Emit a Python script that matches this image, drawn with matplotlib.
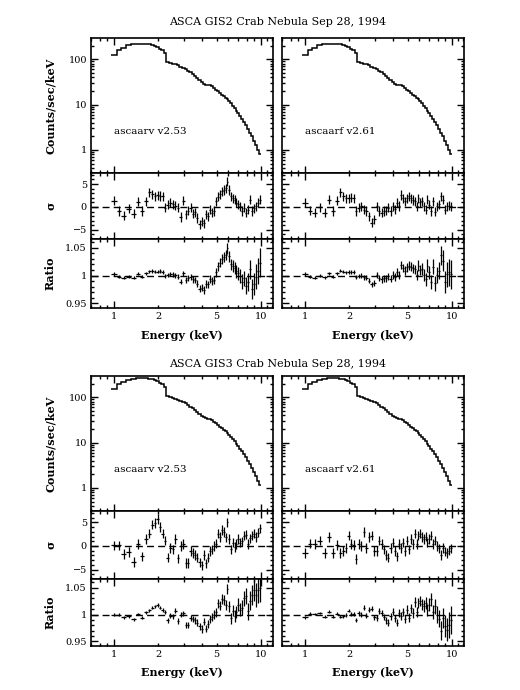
import matplotlib
matplotlib.use("Agg")
import matplotlib.pyplot as plt
import numpy as np
from matplotlib.ticker import FixedLocator, FixedFormatter, NullFormatter

plt.rcParams["font.family"] = ["DejaVu Serif"]
plt.rcParams["font.size"] = 7.5

# ---- data ----
edges = [0.96, 1.04, 1.12, 1.21, 1.31, 1.41, 1.51, 1.61, 1.70, 1.78,
         1.86, 1.94, 2.02, 2.10, 2.18, 2.27, 2.37, 2.47, 2.57, 2.67,
         2.78, 2.90, 3.02, 3.14, 3.26, 3.38, 3.50, 3.62, 3.75, 3.89,
         4.03, 4.17, 4.31, 4.45, 4.59, 4.73, 4.88, 5.04, 5.20, 5.36,
         5.52, 5.68, 5.84, 6.00, 6.17, 6.35, 6.53, 6.72, 6.92, 7.13,
         7.35, 7.58, 7.82, 8.07, 8.33, 8.60, 8.88, 9.17, 9.47, 9.77, 10.07]

gis2_counts = [123, 158, 181, 203, 212, 215, 215, 214, 212, 205,
               200, 187, 170, 160, 138, 87, 83, 80, 77, 73,
               69, 65, 61, 56, 51, 47, 43, 39, 35, 31.5,
               29, 27.5, 27, 26.5, 25.5, 23.5, 21.5, 19.5, 18, 16.5,
               15.4, 14.3, 13.2, 12, 10.7, 9.5, 8.4, 7.4, 6.5, 5.6,
               4.8, 4.1, 3.5, 2.9, 2.4, 2.0, 1.6, 1.3, 1.02, 0.82]

gis3_counts = [153, 195, 222, 245, 258, 263, 263, 261, 257, 250,
               242, 228, 208, 193, 168, 106, 101, 97, 93, 88.5,
               83.5, 79, 74, 68, 62, 57.5, 52.5, 47.5, 43, 39,
               36, 34, 33.5, 32.5, 31.5, 29, 26.5, 24.5, 22.5, 20.5,
               19, 17.7, 16.3, 14.8, 13.3, 12, 10.7, 9.5, 8.5, 7.4,
               6.4, 5.5, 4.7, 4.0, 3.3, 2.75, 2.25, 1.8, 1.45, 1.15]

ratio_err = [0.0030, 0.0028, 0.0027, 0.0026, 0.0026, 0.0026, 0.0027, 0.0028, 0.0029, 0.0030,
             0.0031, 0.0032, 0.0033, 0.0034, 0.0036, 0.0042, 0.0043, 0.0044, 0.0045, 0.0047,
             0.0048, 0.0050, 0.0052, 0.0054, 0.0056, 0.0058, 0.0060, 0.0062, 0.0064, 0.0066,
             0.0068, 0.0070, 0.0071, 0.0072, 0.0074, 0.0076, 0.0078, 0.0080, 0.0083, 0.0086,
             0.0089, 0.0092, 0.0095, 0.0098, 0.0102, 0.0106, 0.0110, 0.0115, 0.0120, 0.0126,
             0.0132, 0.0140, 0.0150, 0.0160, 0.0172, 0.0185, 0.0200, 0.0220, 0.0240, 0.0260]

gis2_v253_sigma = [1.4, -0.9, -1.9, -0.4, -1.5, 1.1, -0.9, 1.2, 3.2, 2.8,
                   2.3, 2.5, 2.4, 2.3, -0.2, 0.5, 0.9, 0.6, 0.3, -0.2,
                   -2.2, 1.4, -1.6, -0.8, -0.2, -1.5, -1.2, -2.4, -3.8, -3.1,
                   -3.6, -1.6, -2.0, -0.6, -1.3, -0.9, 1.2, 2.2, 2.8, 3.4,
                   3.7, 4.1, 5.5, 3.7, 2.3, 1.9, 1.6, 0.9, 0.6, 0.1,
                   -0.9, -0.2, -1.3, -0.6, 1.6, -0.9, -0.3, 0.1, 0.9, 1.6]
gis2_v253_ratio = [1.003, 0.998, 0.996, 0.998, 0.996, 1.003, 0.998, 1.004, 1.008, 1.008,
                   1.007, 1.007, 1.008, 1.006, 0.999, 1.001, 1.003, 1.002, 1.001, 0.998,
                   0.989, 1.004, 0.992, 0.995, 0.998, 0.993, 0.992, 0.985, 0.976, 0.978,
                   0.974, 0.985, 0.984, 0.994, 0.990, 0.992, 1.006, 1.017, 1.023, 1.030,
                   1.033, 1.037, 1.049, 1.035, 1.020, 1.017, 1.014, 1.008, 1.004, 0.999,
                   0.989, 0.995, 0.982, 0.989, 1.011, 0.976, 0.985, 0.998, 1.008, 1.023]

gis2_v261_sigma = [0.9, -0.8, -1.3, -0.1, -1.3, 1.6, -0.9, 1.4, 3.2, 2.3,
                   1.9, 1.9, 2.0, 1.9, -0.9, -0.2, 0.1, -0.6, -0.9, -2.0,
                   -3.4, -2.7, 0.1, -0.9, -1.3, -0.9, -0.8, -0.2, -0.9, 0.1,
                   -0.5, 0.9, 0.2, 2.6, 1.9, 1.2, 1.9, 2.3, 1.9, 1.5,
                   1.2, 0.1, 1.9, 1.0, 1.2, 0.1, -0.6, 1.6, 0.5, -0.9,
                   1.2, -1.0, 0.1, 0.6, 2.3, 1.6, -0.6, 0.1, 0.3, 0.1]
gis2_v261_ratio = [1.003, 0.998, 0.996, 1.000, 0.997, 1.004, 0.998, 1.004, 1.009, 1.007,
                   1.006, 1.006, 1.007, 1.006, 0.997, 0.999, 1.000, 0.997, 0.996, 0.991,
                   0.984, 0.987, 1.001, 0.995, 0.993, 0.995, 0.995, 0.999, 0.994, 1.001,
                   0.997, 1.006, 1.001, 1.019, 1.014, 1.009, 1.015, 1.018, 1.016, 1.013,
                   1.011, 1.001, 1.018, 1.010, 1.012, 1.001, 0.993, 1.018, 1.006, 0.989,
                   1.016, 0.986, 1.001, 1.009, 1.037, 1.027, 0.989, 1.002, 1.006, 1.002]

gis3_v253_sigma = [0.1, 0.1, -1.7, -1.3, -3.4, 0.4, -2.2, 1.5, 2.6, 4.5,
                   4.9, 5.7, 4.0, 2.6, 1.1, -2.5, -0.4, -0.7, 1.5, -2.6,
                   0.0, 0.4, -3.6, -3.6, -1.1, -1.5, -1.9, -2.5, -3.5, -4.1,
                   -1.9, -3.7, -2.5, -1.1, -0.7, 0.0, 0.5, 2.6, 1.9, 3.4,
                   3.0, 1.8, 5.0, 1.5, -0.7, 0.7, -0.2, 0.4, 1.5, 0.7,
                   1.0, 2.2, 2.4, 0.4, 1.6, 2.2, 2.6, 1.9, 2.8, 3.7]
gis3_v253_ratio = [1.000, 1.000, 0.995, 0.997, 0.991, 1.001, 0.994, 1.004, 1.008, 1.013,
                   1.015, 1.018, 1.013, 1.009, 1.004, 0.989, 0.998, 0.997, 1.007, 0.988,
                   1.000, 1.002, 0.981, 0.981, 0.994, 0.991, 0.989, 0.985, 0.978, 0.973,
                   0.987, 0.974, 0.982, 0.992, 0.995, 1.000, 1.004, 1.021, 1.016, 1.029,
                   1.027, 1.017, 1.048, 1.015, 0.993, 1.007, 0.998, 1.005, 1.018, 1.009,
                   1.013, 1.030, 1.035, 1.006, 1.026, 1.037, 1.046, 1.036, 1.045, 1.050]

gis3_v261_sigma = [-1.5, 0.5, 0.4, 1.1, -1.5, 1.9, -1.5, 0.2, -1.5, -1.1,
                   -0.4, 2.2, 0.4, 0.2, -2.8, 0.4, 0.0, 3.0, -0.4, 1.9,
                   2.2, -1.1, -1.1, 1.1, 0.4, -0.7, -1.9, -2.5, -0.4, 0.7,
                   -1.1, -2.2, 0.4, -0.4, 0.7, -1.1, 1.1, -0.7, 1.5, 0.4,
                   2.6, 0.4, 2.2, 2.6, 1.9, 1.5, 2.0, 0.7, 1.5, 2.2,
                   0.4, 1.1, 0.0, -0.5, -1.9, -0.4, -1.2, -1.5, -1.0, -0.5]
gis3_v261_ratio = [0.995, 1.001, 1.001, 1.003, 0.996, 1.005, 0.996, 1.001, 0.996, 0.997,
                   0.999, 1.007, 1.001, 1.001, 0.990, 1.002, 1.000, 1.013, 0.998, 1.009,
                   1.011, 0.995, 0.994, 1.006, 1.002, 0.996, 0.989, 0.985, 0.997, 1.005,
                   0.993, 0.985, 1.003, 0.997, 1.005, 0.992, 1.009, 0.994, 1.012, 1.003,
                   1.023, 1.004, 1.021, 1.025, 1.019, 1.016, 1.022, 1.008, 1.018, 1.028,
                   1.005, 1.015, 1.000, 0.992, 0.970, 0.993, 0.979, 0.972, 0.980, 0.990]

titles = ["ASCA GIS2 Crab Nebula Sep 28, 1994", "ASCA GIS3 Crab Nebula Sep 28, 1994"]
response_labels = ["ascaarv v2.53", "ascaarf v2.61"]

x_major = [1, 10]
x_minor = [0.7, 0.8, 0.9, 2, 3, 4, 5, 6, 7, 8, 9, 11, 12]
x_minor_labels = ["", "", "", "2", "", "", "5", "", "", "", "", "", ""]
x_major_labels = ["1", "10"]
spec_major = [1, 10, 100]
spec_major_labels = ["1", "10", "100"]
sig_major = [-5, 0, 5]
sig_major_labels = ["\u22125", "0", "5"]
ratio_major = [0.95, 1.0, 1.05]
ratio_major_labels = ["0.95", "1", "1.05"]

# ---- layout (pixels of the 520x690 canvas) ----
W, H = 520, 690
col_left = [91 / W, 282 / W]
col_w = 182 / W
groups = [
    {"spec": (38, 173), "sig": (173, 239), "rat": (239, 308), "title_y": 22, "xlab_y": 330},
    {"spec": (376, 511), "sig": (511, 579), "rat": (579, 646), "title_y": 364, "xlab_y": 667},
]

lo = np.array(edges[:-1])
hi = np.array(edges[1:])
cen = np.sqrt(lo * hi)
xerr = [cen - lo, hi - cen]


def style(ax, bottom):
    ax.set_xscale("log")
    ax.set_xlim(0.696, 12.1)
    ax.xaxis.set_major_locator(FixedLocator(x_major))
    ax.xaxis.set_minor_locator(FixedLocator(x_minor))
    if bottom:
        ax.xaxis.set_major_formatter(FixedFormatter(x_major_labels))
        ax.xaxis.set_minor_formatter(FixedFormatter(x_minor_labels))
    else:
        ax.xaxis.set_major_formatter(NullFormatter())
        ax.xaxis.set_minor_formatter(NullFormatter())
    ax.tick_params(which="both", direction="in", top=True, right=True,
                   labelsize=7, width=1.0, pad=3)
    ax.tick_params(which="major", length=5)
    ax.tick_params(which="minor", length=2.5)
    for s in ax.spines.values():
        s.set_linewidth(1.2)


def pix_axes(fig, left, y0, y1):
    return fig.add_axes([left, 1 - y1 / H, col_w, (y1 - y0) / H])


fig = plt.figure(figsize=(5.2, 6.9), dpi=100)

spectra = [gis2_counts, gis3_counts]
sigmas = [[gis2_v253_sigma, gis2_v261_sigma], [gis3_v253_sigma, gis3_v261_sigma]]
ratios = [[gis2_v253_ratio, gis2_v261_ratio], [gis3_v253_ratio, gis3_v261_ratio]]

for g, grp in enumerate(groups):
    fig.text(0.534, 1 - grp["title_y"] / H, titles[g], ha="center", va="center", fontsize=8)
    for c in range(2):
        left = col_left[c]
        ax_s = pix_axes(fig, left, *grp["spec"])
        ax_s.stairs(spectra[g], edges, color="black", lw=1.1, baseline=None)
        ax_s.set_yscale("log")
        ax_s.set_ylim(0.31, 294)
        style(ax_s, False)
        ax_s.yaxis.set_major_locator(FixedLocator(spec_major))
        ax_s.yaxis.set_minor_locator(FixedLocator(
            [m * d for d in (0.1, 1, 10, 100) for m in range(2, 10)]))
        ax_s.text(1.0, 2.5, response_labels[c], ha="left", va="center", fontsize=7.5)

        ax_d = pix_axes(fig, left, *grp["sig"])
        ax_d.axhline(0, color="black", lw=1, ls=(0, (5, 3)))
        ax_d.errorbar(cen, sigmas[g][c], yerr=1.0, xerr=xerr, fmt="none",
                      ecolor="black", elinewidth=0.9, capsize=0)
        ax_d.set_ylim(-7.0, 7.4)
        style(ax_d, False)
        ax_d.yaxis.set_major_locator(FixedLocator(sig_major))
        ax_d.yaxis.set_minor_locator(FixedLocator(list(range(-7, 8))))

        ax_r = pix_axes(fig, left, *grp["rat"])
        ax_r.axhline(1, color="black", lw=1, ls=(0, (5, 3)))
        ax_r.errorbar(cen, ratios[g][c], yerr=ratio_err, xerr=xerr, fmt="none",
                      ecolor="black", elinewidth=0.9, capsize=0)
        ax_r.set_ylim(0.9415, 1.066)
        style(ax_r, True)
        ax_r.yaxis.set_major_locator(FixedLocator(ratio_major))
        ax_r.yaxis.set_minor_locator(FixedLocator(
            [0.94, 0.96, 0.97, 0.98, 0.99, 1.01, 1.02, 1.03, 1.04, 1.06]))
        ax_r.set_xlabel("Energy (keV)", fontsize=8, fontweight="bold")
        ax_r.xaxis.set_label_coords(0.5, -(grp["xlab_y"] - grp["rat"][1]) / (grp["rat"][1] - grp["rat"][0]))

        if c == 0:
            ax_s.yaxis.set_major_formatter(FixedFormatter(spec_major_labels))
            ax_d.yaxis.set_major_formatter(FixedFormatter(sig_major_labels))
            ax_r.yaxis.set_major_formatter(FixedFormatter(ratio_major_labels))
            for ax, lab in ((ax_s, "Counts/sec/keV"), (ax_d, "\u03c3"), (ax_r, "Ratio")):
                ax.set_ylabel(lab, fontsize=8, fontweight="bold")
                ax.yaxis.set_label_coords(-35 / 182, 0.5)
        else:
            for ax in (ax_s, ax_d, ax_r):
                ax.yaxis.set_major_formatter(NullFormatter())
        for ax in (ax_s, ax_d, ax_r):
            ax.yaxis.set_minor_formatter(NullFormatter())

fig.savefig("out.png", dpi=100)
